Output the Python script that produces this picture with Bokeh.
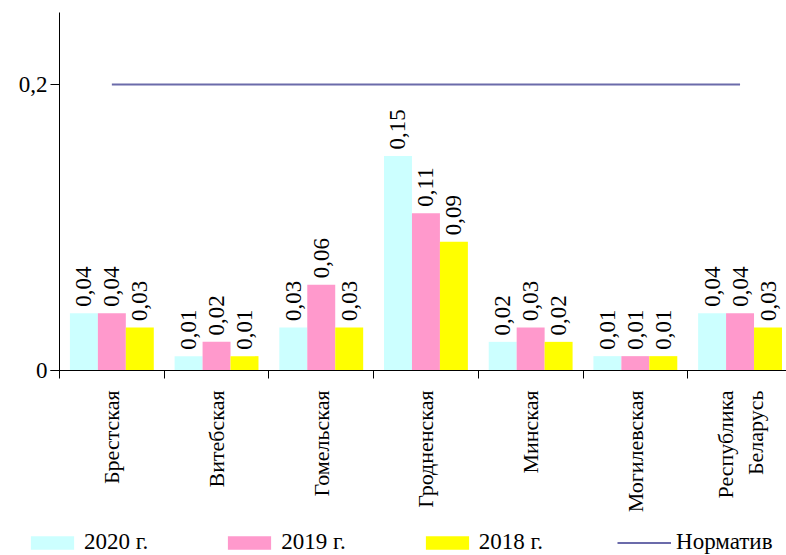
import math
from bokeh.plotting import figure
from bokeh.models import (Range1d, FixedTicker, ColumnDataSource, Legend, LegendItem)
from bokeh.core.properties import value
from bokeh.embed import file_html
from bokeh.resources import INLINE

categories = ["Брестская", "Витебская", "Гомельская", "Гродненская", "Минская",
              "Могилевская", "Республика\nБеларусь"]
series_names = ["2020 г.", "2019 г.", "2018 г."]
v2020 = [0.04, 0.01, 0.03, 0.15, 0.02, 0.01, 0.04]
v2019 = [0.04, 0.02, 0.06, 0.11, 0.03, 0.01, 0.04]
v2018 = [0.03, 0.01, 0.03, 0.09, 0.02, 0.01, 0.03]
norm_value = 0.2
norm_name = "Норматив"
y_ticks = [0, 0.2]
y_tick_labels = ["0", "0,2"]

colors = ["#CCFFFF", "#FF99CC", "#FFFF00"]
norm_color = "#6B6BAA"
FONT = "Liberation Serif"
FS = "23px"
FS_CAT = "22px"

n = len(categories)
centers = [i + 0.5 for i in range(n)]

# whole canvas is the frame; axes are pinned at 0 so the label area is part of it
p = figure(frame_width=786, frame_height=555, output_backend="svg", toolbar_location=None,
           x_range=Range1d(-0.5635, 6.9436), y_range=Range1d(-0.1294, 0.2587),
           min_border_left=0, min_border_right=0, min_border_top=0,
           min_border_bottom=0)
p.outline_line_color = None
p.xgrid.visible = False
p.ygrid.visible = False
p.background_fill_color = "white"
p.border_fill_color = "white"

bw = 0.267
offsets = [-bw, 0.0, bw]
renderers = []
for vals, off, col in zip([v2020, v2019, v2018], offsets, colors):
    src = ColumnDataSource(dict(
        x=[c + off for c in centers], top=vals,
        ty=[v + 0.0045 for v in vals],
        lab=[f"{v:.2f}".replace(".", ",") for v in vals]))
    r = p.vbar(x="x", top="top", width=bw, bottom=0, source=src,
               fill_color=col, line_color=None)
    renderers.append(r)
    p.text(x="x", y="ty", text="lab", source=src, angle=math.pi / 2,
           text_align="left", text_baseline="middle",
           text_font=value(FONT), text_font_size=FS, text_color="black")

nl = p.line(x=[centers[0], centers[-1]], y=[norm_value, norm_value],
            line_color=norm_color, line_width=2)

# x axis (pinned at y = 0)
xa = p.xaxis[0]
xa.fixed_location = 0
xa.bounds = (-0.086, 6.9436)
xa.ticker = FixedTicker(ticks=centers, minor_ticks=list(range(0, n + 1)))
xa.major_label_overrides = {c: lab for c, lab in zip(centers, categories)}
xa.major_label_orientation = math.pi / 2
xa.major_tick_out = 0
xa.major_tick_in = 0
xa.minor_tick_out = 8
xa.minor_tick_in = 0
xa.minor_tick_line_color = "black"
xa.axis_line_color = "black"
xa.major_label_standoff = 12
xa.major_label_text_font = FONT
xa.major_label_text_font_size = FS_CAT
xa.major_label_text_color = "black"

# y axis (pinned at x = 0)
ya = p.yaxis[0]
ya.fixed_location = 0
ya.bounds = (0, 0.2503)
ya.ticker = FixedTicker(ticks=y_ticks, minor_ticks=[])
ya.major_label_overrides = {t: l for t, l in zip(y_ticks, y_tick_labels)}
ya.major_tick_out = 9
ya.major_tick_in = 0
ya.axis_line_color = "black"
ya.major_label_standoff = 3
ya.major_label_text_font = FONT
ya.major_label_text_font_size = FS
ya.major_label_text_color = "black"

items = [LegendItem(label=nm, renderers=[r]) for nm, r in zip(series_names, renderers)]
items.append(LegendItem(label=norm_name, renderers=[nl]))
legend = Legend(items=items, orientation="horizontal", location=(25, 0),
                glyph_width=54, glyph_height=17, label_standoff=5, spacing=74,
                label_text_font=FONT, label_text_font_size=FS,
                label_text_color="black", border_line_alpha=0,
                background_fill_alpha=0, padding=0, margin=0)
p.add_layout(legend, "center")

open("out.html", "w").write(file_html(p, INLINE))
